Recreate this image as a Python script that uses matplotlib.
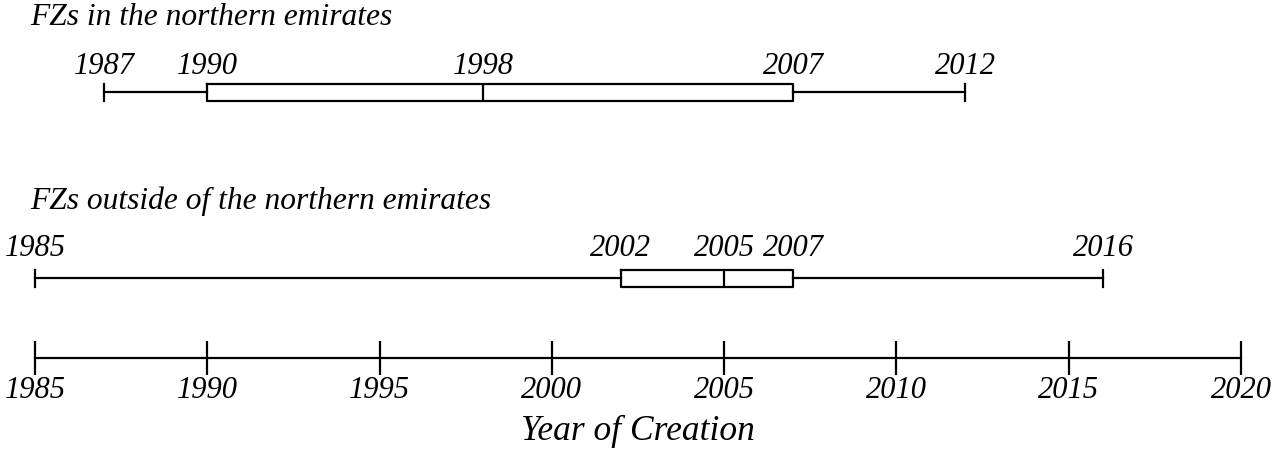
import matplotlib
matplotlib.use("Agg")
import matplotlib.pyplot as plt

plt.rcParams['font.family'] = ['Liberation Serif', 'DejaVu Serif']
plt.rcParams['font.style'] = 'italic'

groups = ["FZs in the northern emirates", "FZs outside of the northern emirates"]
whislo = [1987, 1985]
q1 = [1990, 2002]
med = [1998, 2005]
q3 = [2007, 2007]
whishi = [2012, 2016]
years = [1985, 1990, 1995, 2000, 2005, 2010, 2015, 2020]

W, H = 1276, 456
fig = plt.figure(figsize=(W / 100, H / 100), dpi=100)
ax = fig.add_axes([0, 0, 1, 1])
# map 1985 -> 35 px and 2020 -> 1241 px
ppy = (1241 - 35) / 35.0
ax.set_xlim(1985 - 35 / ppy, 2020 + (W - 1241) / ppy)
ax.set_ylim(H, 0)

box_y = [93, 279]
title_base = [25, 209]
label_base = [74, 256]

stats = []
for i in range(len(groups)):
    stats.append(dict(whislo=whislo[i], q1=q1[i], med=med[i], q3=q3[i],
                      whishi=whishi[i], fliers=[]))

lw = 1.6
ax.bxp(stats, positions=box_y, widths=17, capwidths=17, orientation='horizontal',
       showfliers=False, manage_ticks=False,
       boxprops=dict(color='black', linewidth=lw),
       medianprops=dict(color='black', linewidth=lw),
       whiskerprops=dict(color='black', linewidth=lw),
       capprops=dict(color='black', linewidth=lw))

for i, name in enumerate(groups):
    ax.text(1985 - 5 / ppy, title_base[i], name, fontsize=22.7, ha='left', va='baseline')
    for v in sorted(set([whislo[i], q1[i], med[i], q3[i], whishi[i]])):
        ax.text(v, label_base[i], str(v), fontsize=22, ha='center', va='baseline')

# bottom axis
ax.spines[['top', 'left', 'right']].set_visible(False)
ax.spines['bottom'].set_position(('data', 359))
ax.spines['bottom'].set_bounds(years[0], years[-1])
ax.spines['bottom'].set_linewidth(lw)
ax.set_xticks(years)
ax.set_xticklabels([str(y) for y in years], fontsize=22)
ax.tick_params(axis='x', direction='inout', length=25, width=lw, pad=0)
ax.set_yticks([])
ax.text(2002.5, 440, "Year of Creation", fontsize=25.5, ha='center', va='baseline')

fig.savefig("out.png", dpi=100)
